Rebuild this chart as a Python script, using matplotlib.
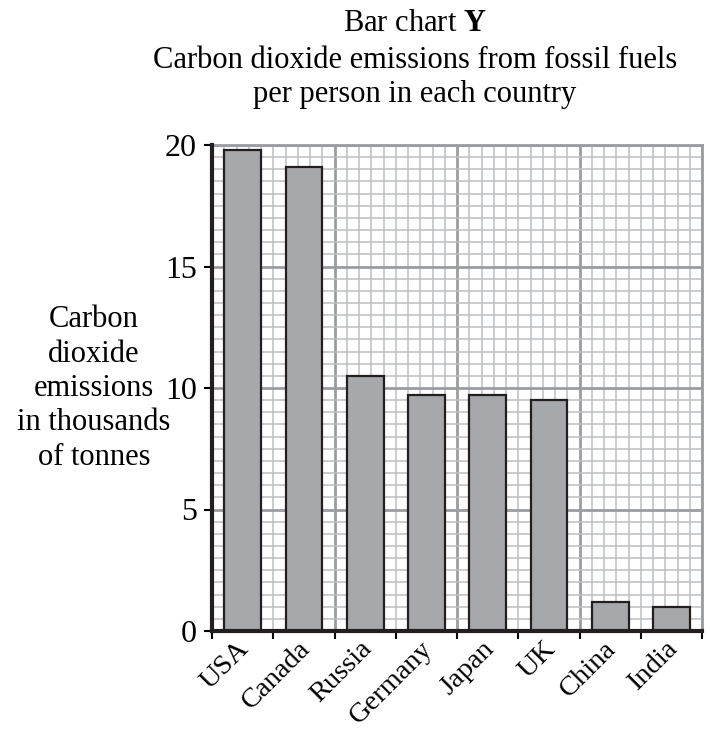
import numpy as np
import matplotlib
matplotlib.use("Agg")
import matplotlib.pyplot as plt

# datos
paises = ["USA", "Canada", "Russia", "Germany", "Japan", "UK", "China", "India"]
emisiones = [19.8, 19.1, 10.5, 9.7, 9.7, 9.5, 1.2, 1.0]
yticks = [0, 5, 10, 15, 20]
etiqueta_y = ["Carbon", "dioxide", "emissions", "in thousands", "of tonnes"]

plt.rcParams['font.family'] = ['Liberation Serif', 'DejaVu Serif']
plt.rcParams['mathtext.fontset'] = 'custom'
plt.rcParams['mathtext.rm'] = 'Liberation Serif'
plt.rcParams['mathtext.bf'] = 'Liberation Serif:bold'

W, H = 710, 733
fig = plt.figure(figsize=(W / 100, H / 100), dpi=100)
ax = fig.add_axes([212 / W, 1 - 631 / H, 490 / W, 486 / H])

n = len(paises)
x = np.arange(n) + 0.5

# cuadricula de papel milimetrado
gris_menor = '#bdbec0'
gris_mayor = '#9b9c9f'
for v in np.arange(0, n + 0.001, 0.2):
    mayor = abs(v / 2 - round(v / 2)) < 1e-6
    ax.axvline(v, color=gris_mayor if mayor else gris_menor,
               lw=2.0 if mayor else 1.1, zorder=0)
for h in np.arange(0, 20.001, 0.5):
    mayor = abs(h / 5 - round(h / 5)) < 1e-6
    ax.axhline(h, color=gris_mayor if mayor else gris_menor,
               lw=2.0 if mayor else 1.1, zorder=0)

ax.bar(x, emisiones, width=0.6, color='#a7a8ab', edgecolor='#231f20',
       linewidth=1.6, zorder=3)

ax.set_xlim(0, n)
ax.set_ylim(0, 20)

ax.set_xticks(np.arange(0, n + 1))
ax.set_xticklabels([])
ax.set_xticks(x - 0.1, minor=True)
ax.set_xticklabels(paises, minor=True, rotation=45, ha='right',
                   rotation_mode='anchor', fontsize=20.5)
ax.tick_params(axis='x', which='minor', length=0, pad=4)
ax.tick_params(axis='x', which='major', length=6, width=1.5, direction='out')

ax.set_yticks(yticks)
ax.set_yticklabels([str(t) for t in yticks], fontsize=23)
ax.tick_params(axis='y', length=6, width=1.5, direction='out', pad=5)

for s in ['left', 'bottom']:
    ax.spines[s].set_linewidth(3)
    ax.spines[s].set_color('#231f20')
    ax.spines[s].set_zorder(5)
for s in ['top', 'right']:
    ax.spines[s].set_linewidth(2.0)
    ax.spines[s].set_color(gris_mayor)

cx = 415 / W
fig.text(cx, 1 - 31 / H, r"Bar chart $\mathbf{Y}$", ha='center', va='baseline', fontsize=22)
fig.text(cx, 1 - 68 / H, "Carbon dioxide emissions from fossil fuels", ha='center',
         va='baseline', fontsize=22)
fig.text(cx, 1 - 102 / H, "per person in each country", ha='center', va='baseline',
         fontsize=22)

for i, linea in enumerate(etiqueta_y):
    fig.text(94 / W, 1 - (327 + 34.5 * i) / H, linea, ha='center', va='baseline',
             fontsize=22)

fig.savefig("out.png", dpi=100)
